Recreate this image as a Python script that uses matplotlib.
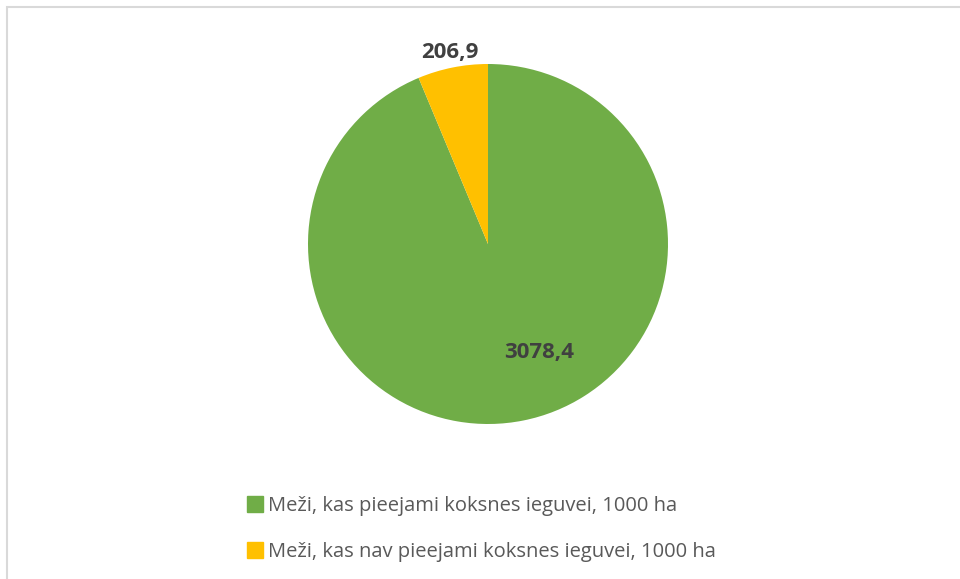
import matplotlib
matplotlib.use("Agg")
import matplotlib.pyplot as plt
from matplotlib.patches import Rectangle
from matplotlib.lines import Line2D
import numpy as np

categories = ["Meži, kas pieejami koksnes ieguvei, 1000 ha",
              "Meži, kas nav pieejami koksnes ieguvei, 1000 ha"]
values = [3078.4, 206.9]
colors = ["#70ad47", "#ffc000"]

W, H = 960, 579
fig = plt.figure(figsize=(W/100, H/100), dpi=100)
ax = fig.add_axes([0, 0, 1, 1])

cx, cy, R = 488, H - 244, 180
wedges, _ = ax.pie(values, colors=colors, startangle=90, counterclock=False,
                   center=(cx, cy), radius=R, frame=True,
                   wedgeprops=dict(linewidth=0))
ax.set_xlim(0, W)
ax.set_ylim(0, H)
ax.set_aspect("equal")
ax.axis("off")

# chart frame
ax.add_patch(Rectangle((6.5, -20), W + 20, H - 6.5 + 20, fill=False,
                       edgecolor="#d9d9d9", linewidth=1.5))

fmt = lambda v: f"{v:.1f}".replace(".", ",")
# label positions (angle deg, distance fraction)
label_pos = [(-65, 0.667), (None, 1.085)]
for w, v, (ang, dist) in zip(wedges, values, label_pos):
    if ang is None:
        ang = (w.theta1 + w.theta2) / 2
    a = np.deg2rad(ang)
    ax.text(cx + dist * R * np.cos(a), cy + dist * R * np.sin(a), fmt(v),
            ha="center", va="center", fontsize=16, fontweight="bold",
            color="#404040", family="Open Sans")

handles = [Line2D([0], [0], marker="s", linestyle="none", markersize=11.5,
                  markerfacecolor=c, markeredgecolor=c) for c in colors]
fig.legend(handles, categories, loc="upper left",
           bbox_to_anchor=(239/W, 1 - 488/H), frameon=False,
           prop=dict(family="Open Sans", size=14.5), labelcolor="#595959",
           handlelength=0.8, handletextpad=0.25, labelspacing=1.28,
           borderaxespad=0, borderpad=0.4)

fig.savefig("out.png", dpi=100)
